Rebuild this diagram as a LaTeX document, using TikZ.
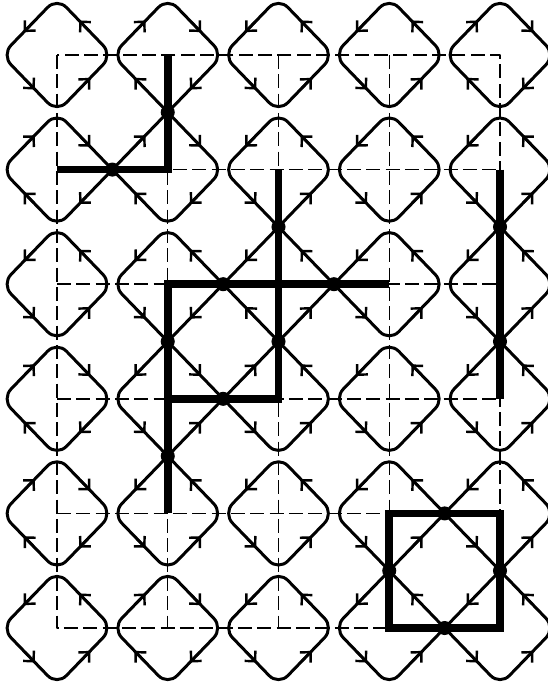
\documentclass[tikz,border=0pt]{standalone}
\usetikzlibrary{arrows.meta, calc}

\begin{document}
\begin{tikzpicture}[
  line join=round,
  strand/.style={black, line width=1.7pt},
  bond/.style={black, line width=4.4pt, line join=miter},
  gridline/.style={black, line width=0.8pt, dash pattern=on 8pt off 3pt},
  tip/.style={black, line width=1.4pt, -{Straight Barb[angle=90:6pt]}}
]

% Page frame, keeps the margins of the original
\useasboundingbox (-1.14,1.10) rectangle (9.80,-12.62);

% ── Lattice spacing ──
\pgfmathsetmacro{\gx}{2.215}
\pgfmathsetmacro{\gy}{2.292}
\pgfmathsetmacro{\hx}{\gx/2}
\pgfmathsetmacro{\hy}{\gy/2}
% inset of a rounded (bouncing) corner
\pgfmathsetmacro{\rc}{0.27}

% ── Vertices of the square lattice ──
\foreach \c in {0,...,4}
  \foreach \r in {0,...,5}
    \coordinate (v\c\r) at (\c*\gx, -\r*\gy);

% ── Dashed lattice ──
\draw[gridline] (v00) rectangle (v45);
\foreach \c in {1,2,3}
  \draw[gridline] (v\c0) -- (v\c5);
\foreach \r in {1,...,4}
  \draw[gridline] (v0\r) -- (v4\r);

% ── Occupied bonds ──
\draw[bond] (v10) -- (v11) -- (v01);
\draw[bond] (v32) -- (v12) -- (v14);
\draw[bond] (v21) -- (v23) -- (v13);
\draw[bond] (v41) -- (v43);
\draw[bond] (v34) rectangle (v45);

% ── Which edges are occupied (1) ──
% horizontal edges, six per row (outer half edges first and last)
\def\hopen{{0,0,0,0,0,0,
            0,1,0,0,0,0,
            0,0,1,1,0,0,
            0,0,1,0,0,0,
            0,0,0,0,1,0,
            0,0,0,0,1,0}}
% vertical edges, five per row of edges (top and bottom borders included)
\def\vopen{{0,0,0,0,0,
            0,1,0,0,0,
            0,0,1,0,1,
            0,1,1,0,1,
            0,1,0,0,0,
            0,0,0,1,1,
            0,0,0,0,0}}

% ── Polygons: a diamond round each vertex ──
% corners bounce (rounded) on empty edges and cross (sharp) on bonds
% arrows on edges UR, UL, LL, LR: 1 = counterclockwise, -1 = clockwise
\foreach \c/\r/\aUR/\aUL/\aLL/\aLR in {
    0/0/1/1/1/1,     1/0/-1/-1/-1/-1, 2/0/1/1/1/1,     3/0/1/1/1/1,  4/0/-1/-1/-1/-1,
    0/1/-1/-1/-1/-1, 1/1/-1/-1/-1/-1, 2/1/1/1/1/1,     3/1/1/1/1/1,  4/1/1/1/1/1,
    0/2/1/1/1/1,     1/2/1/1/1/-1,    2/2/1/1/-1/1,    3/2/1/1/1/1,  4/2/1/1/1/1,
    0/3/-1/-1/-1/-1, 1/3/-1/1/1/1,    2/3/1/-1/1/1,    3/3/1/1/1/1,  4/3/1/1/1/1,
    0/4/-1/-1/-1/-1, 1/4/1/1/1/1,     2/4/1/1/1/1,     3/4/1/1/1/1,  4/4/1/1/1/1,
    0/5/1/1/1/1,     1/5/-1/-1/-1/-1, 2/5/1/1/1/1,     3/5/1/1/1/1,  4/5/1/1/1/1} {
  \pgfmathtruncatemacro{\iR}{\r*6+\c+1}
  \pgfmathtruncatemacro{\iL}{\r*6+\c}
  \pgfmathtruncatemacro{\iT}{\r*5+\c}
  \pgfmathtruncatemacro{\iB}{\r*5+\c+5}
  \pgfmathsetmacro{\kR}{\rc*(1-\hopen[\iR])}
  \pgfmathsetmacro{\kL}{\rc*(1-\hopen[\iL])}
  \pgfmathsetmacro{\kT}{\rc*(1-\vopen[\iT])}
  \pgfmathsetmacro{\kB}{\rc*(1-\vopen[\iB])}
  \begin{scope}[shift={(v\c\r)}]
    % the four corners
    \draw[strand, rounded corners=\kR cm]
      (0.5*\hx,0.5*\hy) -- (\hx,0) -- (0.5*\hx,-0.5*\hy);
    \draw[strand, rounded corners=\kT cm]
      (-0.5*\hx,0.5*\hy) -- (0,\hy) -- (0.5*\hx,0.5*\hy);
    \draw[strand, rounded corners=\kL cm]
      (-0.5*\hx,0.5*\hy) -- (-\hx,0) -- (-0.5*\hx,-0.5*\hy);
    \draw[strand, rounded corners=\kB cm]
      (-0.5*\hx,-0.5*\hy) -- (0,-\hy) -- (0.5*\hx,-0.5*\hy);
    % the four arrows, just past the middle of each edge
    \foreach \mx/\my/\ex/\ey/\sg in {1/1/-1/1/\aUR, -1/1/-1/-1/\aUL,
                                     -1/-1/1/-1/\aLL, 1/-1/1/1/\aLR}
      \draw[tip] ({(0.5*\mx-0.08*(\sg)*(\ex))*\hx}, {(0.5*\my-0.08*(\sg)*(\ey))*\hy})
              -- ({(0.5*\mx+0.1*(\sg)*(\ex))*\hx}, {(0.5*\my+0.1*(\sg)*(\ey))*\hy});
  \end{scope}
}

% ── Crossing points on the occupied bonds ──
\foreach \a/\b in {v10/v11, v01/v11, v12/v22, v22/v32, v12/v13, v13/v14,
                   v21/v22, v22/v23, v13/v23, v41/v42, v42/v43,
                   v34/v44, v35/v45, v34/v35, v44/v45}
  \fill ($(\a)!0.5!(\b)$) circle (4pt);

\end{tikzpicture}
\end{document}
